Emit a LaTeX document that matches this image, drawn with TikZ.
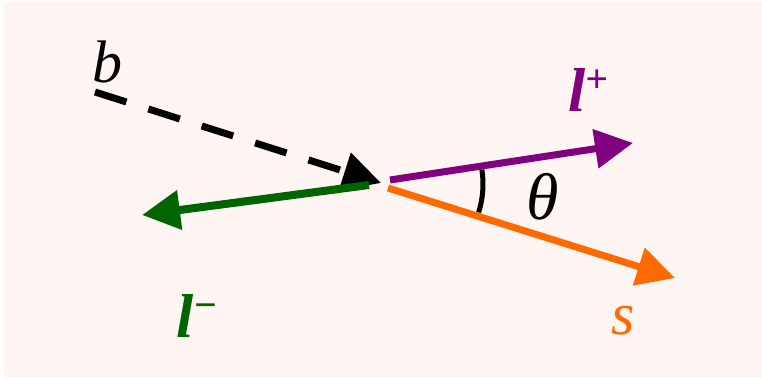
\documentclass[tikz,border=0pt]{standalone}
\usepackage{fontspec}
\setmainfont{Liberation Serif}
\usetikzlibrary{arrows.meta}
\definecolor{bgpink}{HTML}{FFF5F3}
\definecolor{lplus}{HTML}{800080}
\definecolor{lminus}{HTML}{006400}
\definecolor{sorange}{HTML}{FF6A00}
\begin{document}
\begin{tikzpicture}[x=1pt,y=-1pt,
  vec/.style={line width=7pt, -{Triangle[length=38pt,width=38pt]}},
  lbl/.style={inner sep=0pt, font=\fontsize{60}{64}\selectfont\itshape},
  blbl/.style={inner sep=0pt, font=\fontsize{62}{66}\selectfont\bfseries\itshape}]
\useasboundingbox (0,0) rectangle (762,379);
\fill[bgpink] (4,2) rectangle (762,377);
% coordinates
\coordinate (bstart) at (95,92);
\coordinate (btip) at (381,183);
\coordinate (pstart) at (390,180);
\coordinate (ptip) at (633,143);
\coordinate (ostart) at (388,188);
\coordinate (otip) at (675,278);
\coordinate (gstart) at (369,185);
\coordinate (gtip) at (142,215);
\coordinate (O) at (388,184);
% vectors
\draw[vec, black, dash pattern=on 33pt off 23pt] (bstart) -- (btip);
\draw[vec, lplus] (pstart) -- (ptip);
\draw[vec, sorange] (ostart) -- (otip);
\draw[vec, lminus, line width=8pt] (gstart) -- (gtip);
% angle arc
\draw[line width=5pt, black] ([shift={(-8.7:95)}]O) arc[start angle=-8.7, end angle=17.4, radius=95];
% labels
\node[lbl] (b) at (107,62) {b};
\node[lbl, font=\fontsize{66}{70}\selectfont\itshape] (theta) at (543,197) {θ};
\node[blbl, text=lplus] (lp) at (588,90) {l\raisebox{0.3em}{\fontsize{40}{42}\selectfont\bfseries +}};
\node[blbl, text=lminus] (lm) at (197,316) {l\raisebox{0.3em}{\fontsize{40}{42}\selectfont\bfseries −}};
\node[lbl, text=sorange] (s) at (623,321) {s};
\end{tikzpicture}
\end{document}
